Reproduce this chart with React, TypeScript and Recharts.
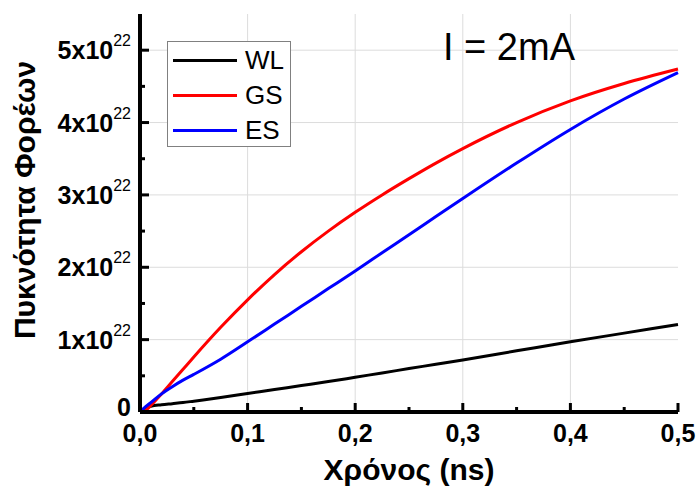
import React from 'react';
import {
  LineChart,
  Line,
  XAxis,
  YAxis,
  ReferenceLine,
  Legend,
} from 'recharts';

// time in ns, carrier density in units of 1e22
const times = [0, 0.005, 0.01, 0.02, 0.03, 0.04, 0.05, 0.075, 0.1, 0.125, 0.15, 0.175, 0.2, 0.225, 0.25, 0.275, 0.3, 0.35, 0.4, 0.45, 0.5];
const wlValues = [0, 0.05, 0.08, 0.1, 0.115, 0.13, 0.15, 0.2, 0.255, 0.31, 0.365, 0.42, 0.48, 0.54, 0.6, 0.66, 0.72, 0.845, 0.97, 1.09, 1.21];
const gsValues = [0, 0.02, 0.09, 0.25, 0.42, 0.59, 0.76, 1.17, 1.55, 1.9, 2.215, 2.5, 2.76, 3.0, 3.225, 3.44, 3.64, 4.0, 4.3, 4.54, 4.74];
const esValues = [0, 0.07, 0.13, 0.25, 0.35, 0.44, 0.52, 0.73, 0.97, 1.215, 1.46, 1.705, 1.95, 2.2, 2.45, 2.7, 2.95, 3.44, 3.905, 4.325, 4.69];

const seriesNames = ['WL', 'GS', 'ES'];
const seriesColors = ['#000000', '#ff0000', '#0000ff'];

const xTicks = [0, 0.05, 0.1, 0.15, 0.2, 0.25, 0.3, 0.35, 0.4, 0.45, 0.5];
const yTicks = [0, 0.5, 1, 1.5, 2, 2.5, 3, 3.5, 4, 4.5, 5];
const xGrid = [0.1, 0.2, 0.3, 0.4];
const yGrid = [1, 2, 3, 4, 5];

const data = times.map((t, i) => ({
  t,
  WL: wlValues[i],
  GS: gsValues[i],
  ES: esValues[i],
}));

const FONT = '"Liberation Sans", Arial, sans-serif';

const isMajor = (v: number, step: number) =>
  Math.abs(v / step - Math.round(v / step)) < 1e-6;

const BottomTick = (props: any) => {
  const { x, y, payload } = props;
  const v = payload.value;
  const major = isMajor(v, 0.1);
  return (
    <g>
      <line x1={x} y1={y} x2={x} y2={y - (major ? 9 : 5)} stroke="#000" strokeWidth={3} />
      {major && (
        <text x={x} y={y + 30} textAnchor="middle" fontFamily={FONT} fontSize={25} fontWeight="bold" fill="#000">
          {v.toFixed(1).replace('.', ',')}
        </text>
      )}
    </g>
  );
};

const TopTick = (props: any) => {
  const { x, y, payload } = props;
  const major = isMajor(payload.value, 0.1);
  return <line x1={x} y1={y} x2={x} y2={y + (major ? 9 : 5)} stroke="#000" strokeWidth={3} />;
};

const LeftTick = (props: any) => {
  const { x, y, payload } = props;
  const v = payload.value;
  const major = isMajor(v, 1);
  return (
    <g>
      <line x1={x} y1={y} x2={x + (major ? 9 : 5)} y2={y} stroke="#000" strokeWidth={3} />
      {major && (
        <text x={x - 9} y={v === 0 ? y + 4 : y + 9} textAnchor="end" fontFamily={FONT} fontSize={25} fontWeight="bold" fill="#000">
          {v === 0 ? '0' : (
            <>
              <tspan>{`${v}x10`}</tspan>
              <tspan dy={-13} fontSize={16} fontWeight="normal">22</tspan>
            </>
          )}
        </text>
      )}
    </g>
  );
};

const RightTick = (props: any) => {
  const { x, y, payload } = props;
  const major = isMajor(payload.value, 1);
  return <line x1={x} y1={y} x2={x - (major ? 9 : 5)} y2={y} stroke="#000" strokeWidth={3} />;
};

const LegendBox = (props: any) => {
  const items = [...(props.payload || [])].sort(
    (a: any, b: any) => seriesNames.indexOf(a.value) - seriesNames.indexOf(b.value)
  );
  return (
    <div
      style={{
        position: 'relative',
        width: 124,
        height: 106,
        boxSizing: 'border-box',
        border: '1px solid #808080',
        background: '#fff',
        fontFamily: FONT,
      }}
    >
      {items.map((item: any, i: number) => (
        <div
          key={item.value}
          style={{
            position: 'absolute',
            left: 5,
            top: 1 + i * 35,
            height: 34,
            display: 'flex',
            alignItems: 'center',
          }}
        >
          <div style={{ width: 64, height: 3, background: item.color }} />
          <span style={{ marginLeft: 8, fontSize: 26, lineHeight: '34px', color: '#000' }}>{item.value}</span>
        </div>
      ))}
    </div>
  );
};

export default function App() {
  return (
    <div style={{ position: 'absolute', left: 0, top: 0, width: 699, height: 486, background: '#fff', fontFamily: FONT }}>
      <LineChart width={699} height={486} data={data} margin={{ top: 14, right: 21, bottom: 0, left: 0 }}>
        {xGrid.map((v) => (
          <ReferenceLine key={`gx${v}`} x={v} stroke="#dcdcdc" strokeWidth={1} />
        ))}
        {yGrid.map((v) => (
          <ReferenceLine key={`gy${v}`} y={v} stroke="#dcdcdc" strokeWidth={1} />
        ))}
        <XAxis
          dataKey="t"
          type="number"
          domain={[0, 0.5]}
          ticks={xTicks}
          interval={0}
          height={74}
          tickSize={0}
          tickMargin={0}
          tickLine={false}
          tick={<BottomTick />}
          axisLine={{ stroke: '#000', strokeWidth: 4 }}
          label={{
            content: () => (
              <text x={409} y={480} textAnchor="middle" fontFamily={FONT} fontSize={30} fontWeight="bold" fill="#000">
                Χρόνος (ns)
              </text>
            ),
          }}
        />
        <XAxis
          xAxisId="top"
          orientation="top"
          type="number"
          domain={[0, 0.5]}
          ticks={xTicks}
          interval={0}
          height={0}
          tickSize={0}
          tickMargin={0}
          tickLine={false}
          tick={<TopTick />}
          axisLine={{ stroke: '#000', strokeWidth: 4 }}
        />
        <YAxis
          type="number"
          domain={[0, 5.5]}
          ticks={yTicks}
          interval={0}
          width={140}
          tickSize={0}
          tickMargin={0}
          tickLine={false}
          tick={<LeftTick />}
          axisLine={{ stroke: '#000', strokeWidth: 4 }}
          label={{
            content: () => (
              <text
                x={35}
                y={200}
                transform="rotate(-90 35 200)"
                textAnchor="middle"
                fontFamily={FONT}
                fontSize={30}
                fontWeight="bold"
                fill="#000"
              >
                Πυκνότητα Φορέων
              </text>
            ),
          }}
        />
        <YAxis
          yAxisId="right"
          orientation="right"
          type="number"
          domain={[0, 5.5]}
          ticks={yTicks}
          interval={0}
          width={0}
          tickSize={0}
          tickMargin={0}
          tickLine={false}
          tick={<RightTick />}
          axisLine={{ stroke: '#000', strokeWidth: 4 }}
        />
        <Legend
          layout="vertical"
          align="center"
          verticalAlign="middle"
          content={<LegendBox />}
          wrapperStyle={{ left: 167, top: 41, width: 124, height: 106 }}
        />
        {seriesNames.map((name, i) => (
          <Line
            key={name}
            type="monotone"
            dataKey={name}
            name={name}
            stroke={seriesColors[i]}
            strokeWidth={3}
            dot={false}
            isAnimationActive={false}
          />
        ))}
      </LineChart>
      <div
        style={{
          position: 'absolute',
          left: 443,
          top: 28,
          fontSize: 38,
          lineHeight: '38px',
          color: '#000',
          whiteSpace: 'nowrap',
        }}
      >
        I = 2mA
      </div>
    </div>
  );
}
